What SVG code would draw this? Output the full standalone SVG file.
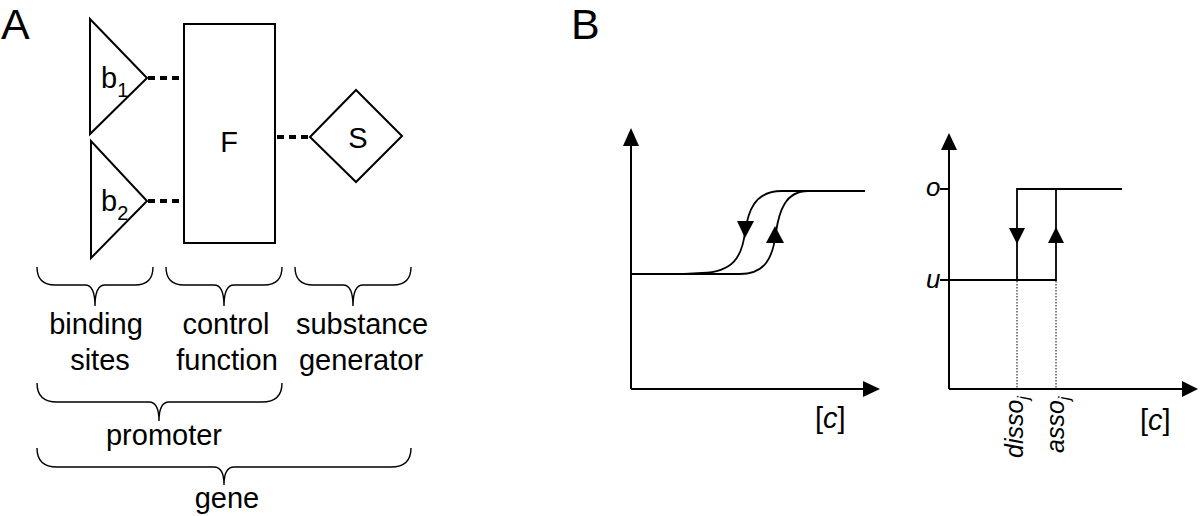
<svg xmlns="http://www.w3.org/2000/svg" width="1200" height="516" viewBox="0 0 1200 516">
<style>
text{font-family:"Liberation Sans",Arial,sans-serif;fill:#000}
.lbl{font-size:29px}
.big{font-size:43px}
.it{font-style:italic}
.shape{fill:#fff;stroke:#000;stroke-width:2}
.dot{stroke:#000;stroke-width:4;stroke-dasharray:7,5;fill:none}
.brace{fill:none;stroke:#000;stroke-width:1.4}
.axis{stroke:#000;stroke-width:2;fill:none}
.plot{stroke:#000;stroke-width:1.8;fill:none}
.thin{stroke:#000;stroke-width:1;stroke-dasharray:1.5,1.5;fill:none}
.head{fill:#000;stroke:none}
</style>
<rect width="1200" height="516" fill="#fff"/>
<text class="big" x="1" y="39">A</text>
<text class="big" x="571" y="39">B</text>

<g id="b1">
<polygon class="shape" points="90,19 90,134 147,78"/>
<text class="lbl" x="101" y="88">b<tspan font-size="20" dy="9">1</tspan></text>
</g>
<g id="b2">
<polygon class="shape" points="91,141 91,258 147,201"/>
<text class="lbl" x="101" y="211">b<tspan font-size="20" dy="9">2</tspan></text>
</g>
<g id="F">
<rect class="shape" x="184" y="24" width="91" height="219"/>
<text class="lbl" x="229" y="152" text-anchor="middle">F</text>
</g>
<g id="S">
<polygon class="shape" points="310,137 356,90 402,136 356,182"/>
<text class="lbl" x="358" y="148" text-anchor="middle">S</text>
</g>
<g id="connectors">
<line class="dot" x1="148" y1="78" x2="184" y2="78"/>
<line class="dot" x1="148" y1="201" x2="184" y2="201"/>
<line class="dot" x1="277" y1="137" x2="310" y2="137"/>
</g>

<g id="braces">
<path class="brace" d="M37 267 Q37 285 55 285 L85 285 Q95 285 95 306 Q95 285 105 285 L135 285 Q153 285 153 267"/>
<path class="brace" d="M166 267 Q166 285 184 285 L214 285 Q224 285 224 306 Q224 285 234 285 L264 285 Q282 285 282 267"/>
<path class="brace" d="M295 267 Q295 285 313 285 L343 285 Q353 285 353 306 Q353 285 363 285 L393 285 Q411 285 411 267"/>
<path class="brace" d="M37 383 Q37 402 57 402 L149 402 Q159 402 159 421 Q159 402 169 402 L262 402 Q282 402 282 383"/>
<path class="brace" d="M37 448 Q37 467 57 467 L214 467 Q224 467 224 485 Q224 467 234 467 L391 467 Q411 467 411 448"/>
</g>
<g id="braceLabels" class="lbl" text-anchor="middle">
<text x="96" y="334">binding</text>
<text x="100" y="370">sites</text>
<text x="226" y="334">control</text>
<text x="227" y="370">function</text>
<text x="362" y="334">substance</text>
<text x="361" y="370">generator</text>
<text x="164" y="445">promoter</text>
<text x="227" y="508">gene</text>
</g>

<g id="graph1">
<line class="axis" x1="631" y1="140" x2="631" y2="389"/>
<line class="axis" x1="631" y1="389" x2="868" y2="389"/>
<polygon class="head" points="631,128 623,146 639,146"/>
<polygon class="head" points="880,389 863,381 863,397"/>
<path class="plot" d="M631 274 L740 274"/>
<path class="plot" d="M782 191 L865 191"/>
<path class="plot" d="M782 191 C754 191 748 212 745 232 C742 258 732 272 702 273 L684 274"/>
<path class="plot" d="M808 191 C785 191 779 212 776 232 C773 258 765 274 740 274"/>
<polygon class="head" points="737,221 754,221 745,238"/>
<polygon class="head" points="775,226 766,243 784,243"/>
<text class="lbl" x="815" y="428">[<tspan class="it">c</tspan>]</text>
</g>

<g id="graph2">
<line class="axis" x1="949" y1="145" x2="949" y2="389"/>
<line class="axis" x1="949" y1="389" x2="1186" y2="389"/>
<polygon class="head" points="949,133 941,150 957,150"/>
<polygon class="head" points="1198,389 1182,381 1182,397"/>
<line class="axis" x1="940" y1="189" x2="949" y2="189"/>
<line class="axis" x1="940" y1="280" x2="949" y2="280"/>
<path class="plot" d="M949 280 L1056 280 L1056 189 M1017 280 L1017 189 L1122 189"/>
<polygon class="head" points="1009,228 1025,228 1017,244"/>
<polygon class="head" points="1056,227 1048,243 1064,243"/>
<line class="thin" x1="1017" y1="281" x2="1017" y2="389"/>
<line class="thin" x1="1056" y1="281" x2="1056" y2="389"/>
<text class="it" font-size="26" x="926" y="196">o</text>
<text class="it" font-size="26" x="926" y="288">u</text>
<text class="it" font-size="25" transform="translate(1023,458) rotate(-90)">disso<tspan font-size="16" dy="6">j</tspan></text>
<text class="it" font-size="25" transform="translate(1064,453) rotate(-90)">asso<tspan font-size="16" dy="6">j</tspan></text>
<text class="lbl" x="1140" y="430">[<tspan class="it">c</tspan>]</text>
</g>
</svg>
